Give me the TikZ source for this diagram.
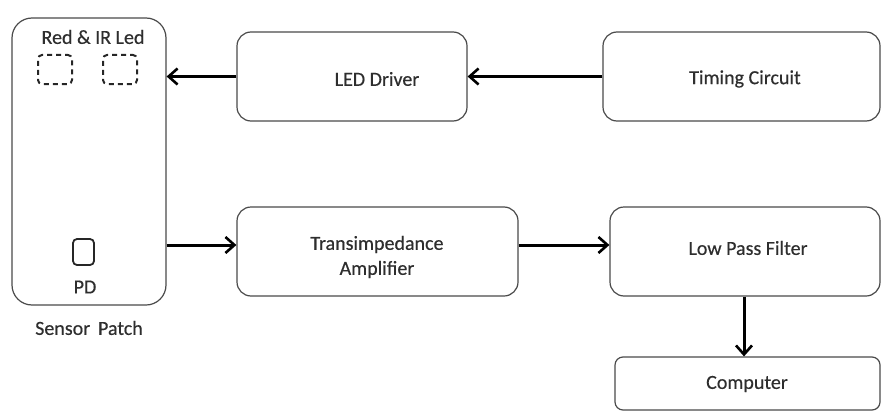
\documentclass[tikz,border=0pt]{standalone}
\usepackage{fontspec}
\setmainfont{Carlito}[FakeBold=0.4]
\usetikzlibrary{arrows.meta}
\definecolor{txt}{HTML}{2E2E2E}
\definecolor{edge}{HTML}{4A4A4A}
\begin{document}
\begin{tikzpicture}[x=1pt,y=-1pt,
  blk/.style={draw=edge, line width=1.2pt, rounded corners=14pt, inner sep=0pt},
  lbl/.style={font=\fontsize{20}{25}\selectfont, text=txt},
  ledbox/.style={draw=black!85, line width=2pt, dash pattern=on 5pt off 4pt, dash phase=2pt, rounded corners=4pt, minimum width=34pt, minimum height=29pt},
  conn/.style={line width=3pt, -{Straight Barb[length=9pt,width=16pt,line width=2.6pt]}}]
\useasboundingbox (0,0) rectangle (885,412);
\node[blk, minimum width=154pt, minimum height=287pt, rounded corners=20pt] (sp) at (89,161.5) {};
\node[blk, minimum width=230pt, minimum height=89pt] (led) at (352,76.5) {};
\node[lbl] at (377,79) {LED Driver};
\node[blk, minimum width=277pt, minimum height=89pt] (tim) at (741.5,76.5) {};
\node[lbl] at (745,79) {Timing Circuit};
\node[blk, minimum width=281pt, minimum height=89pt] (tia) at (377.5,251.5) {};
\node[lbl, align=center] at (377,257) {Transimpedance\\Amplifier};
\node[blk, minimum width=270pt, minimum height=89pt] (lpf) at (745,251.5) {};
\node[lbl] at (748,248) {Low Pass Filter};
\node[blk, minimum width=265pt, minimum height=53pt, rounded corners=8pt] (com) at (747.5,383.5) {};
\node[lbl] at (747,384) {Computer};
\node[lbl] (rir) at (93,37) {Red \& IR Led};
\node[ledbox] (l1) at (55,69.5) {};
\node[ledbox] (l2) at (120,69.5) {};
\node[draw=black!85, line width=1.8pt, rounded corners=4pt, minimum width=21pt, minimum height=26pt] (pdb) at (83.5,252) {};
\node[lbl] (pd) at (85,287) {PD};
\node[lbl] (spl) at (89,328) {Sensor\, Patch};
\draw[conn] (tim.west) -- (led.east);
\draw[conn] (led.west) -- (sp.east |- led.west);
\draw[conn] (sp.east |- 0,245) -- (tia.west |- 0,245);
\draw[conn] (tia.east |- 0,245) -- (lpf.west |- 0,245);
\draw[conn] (lpf.south -| 744,0) -- (com.north -| 744,0);
\end{tikzpicture}
\end{document}
